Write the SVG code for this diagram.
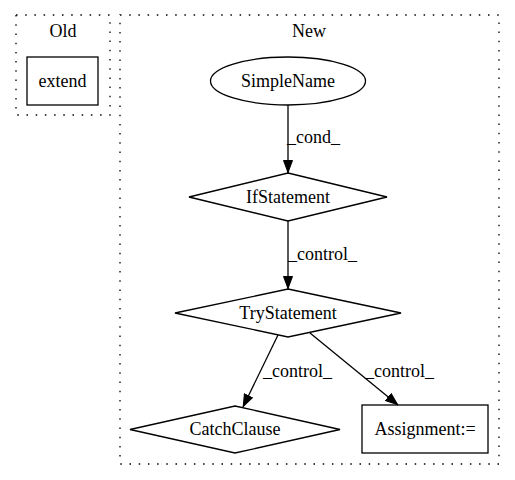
<svg xmlns="http://www.w3.org/2000/svg" width="515" height="480" viewBox="0 0 515 480">
  <style>
    text { font-family: "Liberation Serif", "Times New Roman", serif; font-size: 18px; fill: #000; text-anchor: middle; }
    .lbl { text-anchor: start; }
    .cluster { fill: none; stroke: #000; stroke-width: 1.3; stroke-dasharray: 1.5,7.7; }
    .node { fill: #fff; stroke: #000; stroke-width: 1.3; }
    .edge { fill: none; stroke: #000; stroke-width: 1.3; }
  </style>
  <defs>
    <marker id="arrow" viewBox="0 0 13 10" refX="13" refY="5" markerWidth="13" markerHeight="10" markerUnits="userSpaceOnUse" orient="auto">
      <path d="M0.5,0.5 L12.5,5 L0.5,9.5 Z" fill="#000" stroke="#000"/>
    </marker>
  </defs>
  <rect width="515" height="480" fill="#fff"/>

  <g id="cluster-old">
    <rect class="cluster" x="16" y="15" width="94" height="100"/>
    <text x="63" y="37">Old</text>
  </g>
  <g id="cluster-new">
    <rect class="cluster" x="120" y="15" width="379" height="449"/>
    <text x="309" y="37">New</text>
  </g>

  <g id="extend">
    <rect class="node" x="27" y="57" width="71" height="48"/>
    <text x="62.5" y="87">extend</text>
  </g>
  <g id="SimpleName">
    <ellipse class="node" cx="288" cy="81" rx="77.5" ry="24"/>
    <text x="288" y="87">SimpleName</text>
  </g>
  <g id="IfStatement">
    <polygon class="node" points="288,173 387,197 288,221 189,197"/>
    <text x="288" y="203">IfStatement</text>
  </g>
  <g id="TryStatement">
    <polygon class="node" points="288,289 401,313 288,337 175,313"/>
    <text x="288" y="319">TryStatement</text>
  </g>
  <g id="CatchClause">
    <polygon class="node" points="235,406 340,429.5 235,453 130,429.5"/>
    <text x="235" y="435">CatchClause</text>
  </g>
  <g id="Assignment">
    <rect class="node" x="362" y="405" width="126" height="48"/>
    <text x="425" y="435">Assignment:=</text>
  </g>

  <g id="connectors">
    <path class="edge" d="M288,105 L288,173" marker-end="url(#arrow)"/>
    <text class="lbl" x="287" y="143">_cond_</text>
    <path class="edge" d="M288,221 L288,289" marker-end="url(#arrow)"/>
    <text class="lbl" x="288" y="260">_control_</text>
    <path class="edge" d="M278,335 L243,407" marker-end="url(#arrow)"/>
    <text class="lbl" x="263" y="377">_control_</text>
    <path class="edge" d="M310,333 L398,405" marker-end="url(#arrow)"/>
    <text class="lbl" x="365" y="377">_control_</text>
  </g>
</svg>
